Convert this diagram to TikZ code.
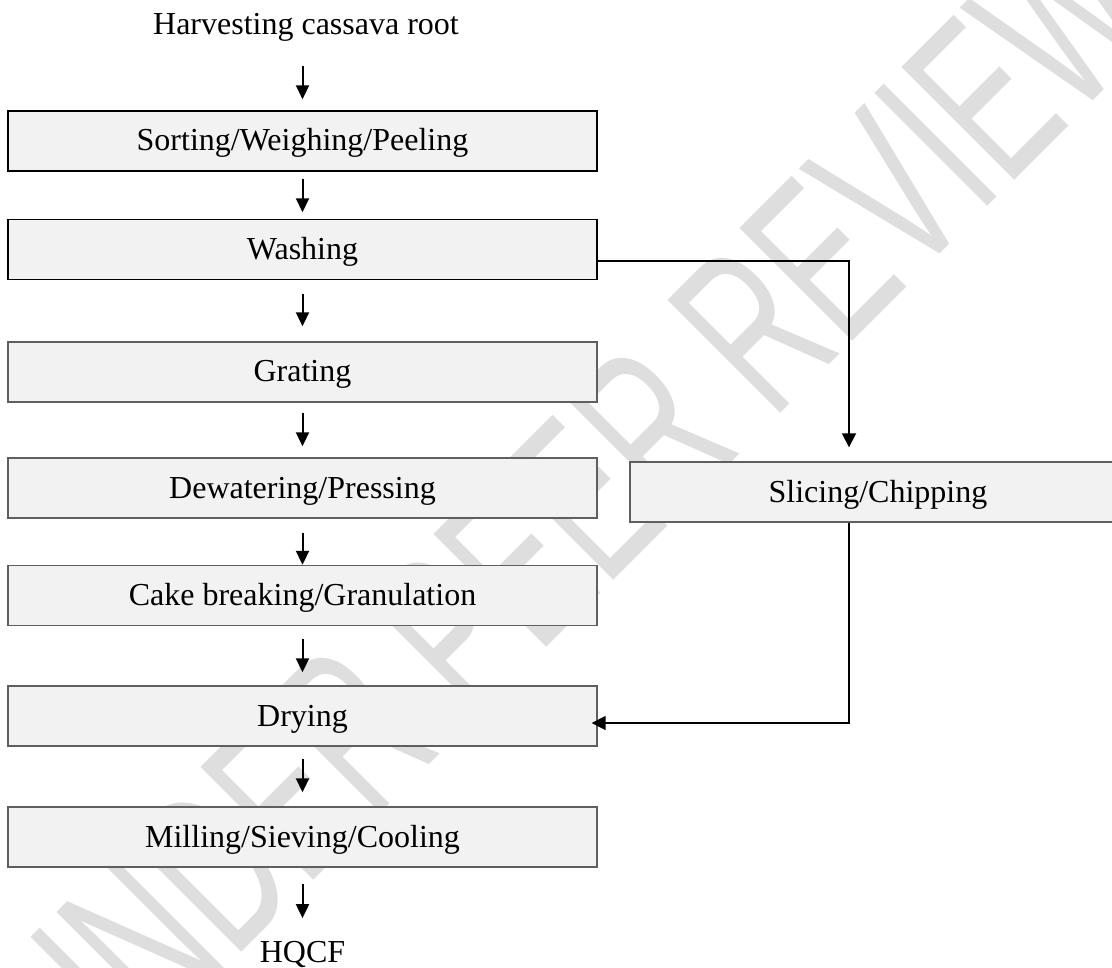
\documentclass[tikz,border=0pt]{standalone}
\usepackage{fontspec}
\setmainfont{Liberation Serif}
\newfontfamily\wmfont{Liberation Sans}
\usetikzlibrary{arrows.meta}
\definecolor{boxfill}{RGB}{242,242,242}
\definecolor{boxline}{RGB}{95,95,95}
\definecolor{wm}{RGB}{222,222,222}
\begin{document}
\begin{tikzpicture}[x=1pt,y=-1pt,
  stage/.style={draw=boxline, fill=boxfill, line width=1.4pt, minimum width=589pt, minimum height=60pt, inner sep=0pt, text height=26pt, text depth=6pt, font=\fontsize{32}{38}\selectfont},
  plain/.style={inner sep=0pt, anchor=base, font=\fontsize{32}{38}\selectfont},
  arr/.style={line width=2pt, -{Triangle[width=13pt,length=14pt]}},
  conn/.style={line width=1.8pt, -{Triangle[width=14pt,length=14pt]}}]
\useasboundingbox (0,0) rectangle (1112,968);
\clip (0,0) rectangle (1112,968);
% watermark
\node[text=wm, rotate=45, inner sep=0pt, font=\wmfont\fontsize{232}{232}\selectfont] (wmk) at (572.5,510.5) {\scalebox{0.61}[1]{UNDER PEER REVIEW}};
% nodes
\node[plain] (harv) at (306,35) {Harvesting cassava root};
\node[stage, draw=black] (so) at (302.5,141) {Sorting/Weighing/Peeling};
\node[stage, draw=black] (wa) at (302.5,249.5) {Washing};
\node[stage] (gr) at (302.5,372) {Grating};
\node[stage] (de) at (302.5,488) {Dewatering/Pressing};
\node[stage] (ca) at (302.5,595.5) {Cake breaking/Granulation};
\node[stage] (dr) at (302.5,716) {Drying};
\node[stage] (mi) at (302.5,837) {Milling/Sieving/Cooling};
\node[stage, minimum width=496pt] (sl) at (878,492) {Slicing/Chipping};
\node[plain] (hq) at (302.5,962) {HQCF};
% main chain
\draw[arr, shorten <=24pt, shorten >=11pt] (harv.south -| so.north) -- (so.north);
\draw[arr, shorten <=7pt, shorten >=6.5pt] (so.south) -- (wa.north);
\draw[arr, shorten <=13.5pt, shorten >=15pt] (wa.south) -- (gr.north);
\draw[arr, shorten <=10pt, shorten >=11pt] (gr.south) -- (de.north);
\draw[arr, shorten <=14pt, shorten >=0pt] (de.south) -- (ca.north);
\draw[arr, shorten <=12.5pt, shorten >=13pt] (ca.south) -- (dr.north);
\draw[arr, shorten <=12pt, shorten >=14pt] (dr.south) -- (mi.north);
\draw[arr, shorten <=16pt, shorten >=22.5pt] (mi.south) -- (hq.north);
% side branch
\coordinate (j1) at (849,261);
\coordinate (j2) at (849,723);
\draw[conn, shorten >=14pt] (wa.east |- j1) -- (j1) -- (j1 |- sl.north);
\draw[conn, shorten >=-6pt] (sl.south -| j2) -- (j2) -- (dr.east |- j2);
\end{tikzpicture}
\end{document}
